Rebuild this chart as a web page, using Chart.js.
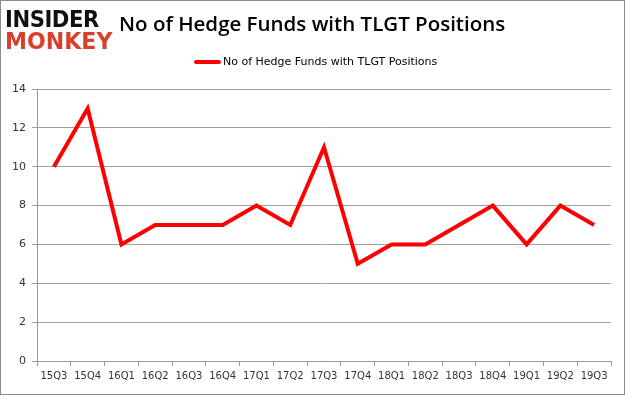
<!DOCTYPE html>
<html>
<head>
<meta charset="utf-8">
<script src="https://cdn.jsdelivr.net/npm/chart.js@4"></script>
<style>
  html, body { margin: 0; padding: 0; background: #fff; }
  #wrap { position: relative; width: 625px; height: 395px; box-sizing: border-box; border: 1px solid #8c8c8c; overflow: hidden; }
  #wrap canvas { position: absolute; left: 0; top: 0; }
  .logo { position: absolute; left: 4px; font-family: "DejaVu Sans", sans-serif; font-weight: bold; font-size: 23px; line-height: 23px; transform-origin: left; }
  #title { position: absolute; left: 118px; top: 8px; font-family: "Open Sans", sans-serif; font-weight: 600; font-size: 20.5px; color: #000; white-space: nowrap; }
  #legend { position: absolute; left: 193px; top: 54px; font-family: "DejaVu Sans", sans-serif; font-size: 11px; color: #000; white-space: nowrap; }
  #legend span { display: inline-block; width: 27px; height: 4px; background: #ff0000; vertical-align: middle; margin-right: 2px; border-radius: 2px; }
</style>
</head>
<body>
<div id="wrap">
  <canvas id="chart" width="625" height="395"></canvas>
  <div class="logo" style="top:7px;color:#111;transform:scaleX(0.92);letter-spacing:-0.5px">INSIDER</div>
  <div class="logo" style="top:29px;color:#d9402b;transform:scaleX(0.96);letter-spacing:0px">MONKEY</div>
  <div id="title">No of Hedge Funds with TLGT Positions</div>
  <div id="legend"><span></span>No of Hedge Funds with TLGT Positions</div>
</div>
<script>
var quarters = ['15Q3','15Q4','16Q1','16Q2','16Q3','16Q4','17Q1','17Q2','17Q3','17Q4','18Q1','18Q2','18Q3','18Q4','19Q1','19Q2','19Q3']
var fundcounts = [10, 13, 6, 7, 7, 7, 8, 7, 11, 5, 6, 6, 7, 8, 6, 8, 7]
var seriesname = 'No of Hedge Funds with TLGT Positions'

const config = {
  type: 'line',
  data: {
    labels: quarters,
    datasets: [{
      label: seriesname,
      data: fundcounts,
      borderColor: '#ff0000',
      borderWidth: 4,
      pointRadius: 0,
      tension: 0,
      fill: false
    }]
  },
  options: {
    responsive: false,
    animation: false,
    layout: { padding: { left: 0, right: 15, top: 88, bottom: 0 } },
    plugins: { legend: { display: false }, title: { display: false }, tooltip: { enabled: false } },
    scales: {
      x: {
        offset: true,
        afterFit: function(axis) { axis.height = 35 },
        grid: { offset: true, drawOnChartArea: false, drawTicks: true, tickLength: 5, color: '#999' },
        border: { color: '#999' },
        ticks: { color: '#333', font: { family: 'DejaVu Sans', size: 10 }, maxRotation: 0, autoSkip: false, padding: 4 }
      },
      y: {
        min: 0, max: 14,
        afterFit: function(axis) { axis.width = 36 },
        grid: { color: '#a0a0a0', tickLength: 5, drawTicks: true },
        border: { color: '#999' },
        ticks: { stepSize: 2, color: '#333', font: { family: 'DejaVu Sans', size: 11 }, padding: 6 }
      }
    }
  }
}

new Chart(document.getElementById('chart'), config)
</script>
</body>
</html>
